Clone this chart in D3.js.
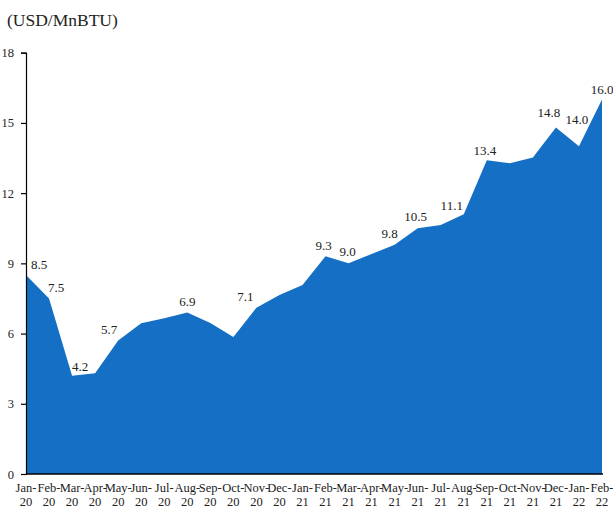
<!DOCTYPE html>
<html>
<head>
<meta charset="utf-8">
<script src="https://cdn.jsdelivr.net/npm/d3@7"></script>
<style>
  html, body { margin: 0; padding: 0; background: #fff; }
  text { font-family: "Liberation Serif", "Times New Roman", serif; fill: #222; }
</style>
</head>
<body>
<div id="chart"></div>
<script>
(function () {
	var width = 613;
	var height = 508;

	// month labels, two lines each
	var months = ["Jan-", "Feb-", "Mar-", "Apr-", "May-", "Jun-", "Jul-", "Aug-", "Sep-", "Oct-", "Nov-", "Dec-",
	              "Jan-", "Feb-", "Mar-", "Apr-", "May-", "Jun-", "Jul-", "Aug-", "Sep-", "Oct-", "Nov-", "Dec-",
	              "Jan-", "Feb-"];
	var years = ["20", "20", "20", "20", "20", "20", "20", "20", "20", "20", "20", "20",
	             "21", "21", "21", "21", "21", "21", "21", "21", "21", "21", "21", "21",
	             "22", "22"];

	// price in USD/MnBTU
	var prices = [8.5, 7.5, 4.2, 4.3, 5.7, 6.44, 6.65, 6.9, 6.45, 5.85, 7.1, 7.65,
	              8.08, 9.3, 9.0, 9.4, 9.8, 10.5, 10.64, 11.1, 13.4, 13.28, 13.52, 14.8,
	              14.0, 16.0];

	// which points carry a value label
	var labelled = [0, 1, 2, 4, 7, 10, 13, 14, 16, 17, 19, 20, 23, 24, 25];

	var yTicks = [0, 3, 6, 9, 12, 15, 18];

	// hand nudges for the labels (dx, dy from the point)
	var nudge = {0: [13, -6], 1: [7, -6], 2: [8, -5], 4: [-9, -7], 7: [0, -7], 10: [-11, -7],
	             13: [-2, -6], 14: [-1, -7], 16: [-5, -7], 17: [-2, -7], 19: [-12, -4],
	             20: [-2, -5], 23: [-7, -11], 24: [-2, -22], 25: [0, -6]};

	var data = prices.map(function (v, i) {
		return { key: i, month: months[i], year: years[i], value: v };
	});

	var svg = d3.select("#chart")
	   .append("svg")
	   .attr("width", width)
	   .attr("height", height)

	var x = d3.scalePoint()
	   .domain(data.map(function (d) { return d.key; }))
	   .range([26, 602])

	var y = d3.scaleLinear().domain([0, 18]).range([474, 52.7])

	// title
	svg.append("text")
	   .attr("x", 7)
	   .attr("y", 26)
	   .style("font-size", "17.5px")
	   .text("(USD/MnBTU)")

	// the filled area
	var area = d3.area()
	   .x(function (d) { return x(d.key); })
	   .y0(y(0))
	   .y1(function (d) { return y(d.value); })

	svg.append("path")
	   .datum(data)
	   .attr("d", area)
	   .attr("fill", "#1570c5")

	// y axis
	var yAxis = svg.append("g")
	   .attr("transform", "translate(26,0)")
	   .call(d3.axisLeft(y).tickValues(yTicks).tickSize(5).tickPadding(7))
	yAxis.select(".domain").attr("stroke", "#000").attr("stroke-width", 1.2)
	yAxis.selectAll(".tick line").attr("stroke", "#000").attr("stroke-width", 1.2)
	yAxis.selectAll(".tick text")
	   .style("font-size", "12.5px")
	   .attr("fill", "#222")
	   .style("font-family", "'Liberation Serif', serif")

	// x axis baseline
	svg.append("line")
	   .attr("x1", 26).attr("x2", 603)
	   .attr("y1", y(0)).attr("y2", y(0))
	   .attr("stroke", "#000")
	   .attr("stroke-width", 1.5)

	// x labels
	var xl = svg.append("g").selectAll("text")
	   .data(data)
	   .enter().append("text")
	   .attr("text-anchor", "middle")
	   .style("font-size", "12.5px")
	   .attr("transform", function (d) { return "translate(" + x(d.key) + ",0)"; })
	xl.append("tspan").attr("x", 0).attr("y", 492).text(function (d) { return d.month; })
	xl.append("tspan").attr("x", 0).attr("y", 505.5).text(function (d) { return d.year; })

	// value labels
	var fmt = d3.format(".1f");
	svg.append("g").selectAll("text")
	   .data(labelled)
	   .enter().append("text")
	   .attr("text-anchor", "middle")
	   .style("font-size", "13px")
	   .attr("x", function (i) { return x(i) + nudge[i][0]; })
	   .attr("y", function (i) { return y(prices[i]) + nudge[i][1]; })
	   .text(function (i) { return fmt(prices[i]); })

})();
</script>
</body>
</html>
